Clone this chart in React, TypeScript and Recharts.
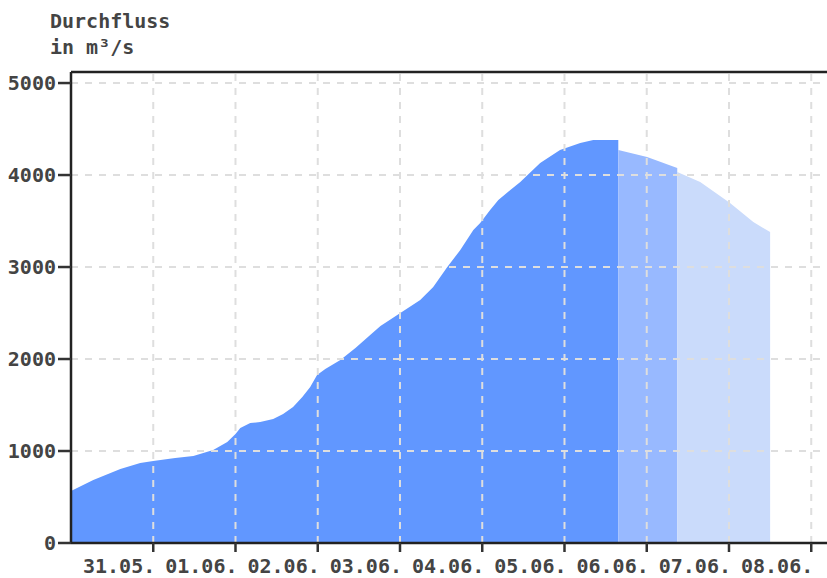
import React from "react";
import { AreaChart, Area, XAxis, YAxis, ReferenceLine } from "recharts";

// hours since 31.05. 00:00
const mainHours = [0, 6.5, 14.4, 20.2, 24, 30.4, 35.7, 41.5, 45.6, 48, 49.4, 52.3, 55.2, 59, 61.9, 64.8, 67.5, 69.8, 71.8, 74.2, 78.6, 83, 87.3, 90.3, 96.1, 101.9, 105.7, 109.8, 113.6, 117.4, 119.4, 122.3, 124.7, 128.2, 131.1, 136.9, 142.7, 148.6, 152.4, 159.7];
const mainValues = [565, 685, 804, 870, 891, 924, 946, 1011, 1098, 1185, 1250, 1304, 1315, 1348, 1402, 1478, 1587, 1696, 1826, 1891, 1989, 2120, 2260, 2360, 2500, 2641, 2783, 3000, 3185, 3402, 3478, 3620, 3728, 3837, 3924, 4130, 4272, 4348, 4380, 4380];

const midHours = [159.7, 168.1, 176.9];
const midValues = [4272, 4196, 4076];

const lightHours = [176.9, 183.6, 192.3, 199.1, 204.0];
const lightValues = [4033, 3924, 3696, 3489, 3380];

const xTicks = [24, 48, 72, 96, 120, 144, 168, 192, 216];
const xTickLabels = ["31.05.", "01.06.", "02.06.", "03.06.", "04.06.", "05.06.", "06.06.", "07.06.", "08.06."];
const yTicks = [0, 1000, 2000, 3000, 4000, 5000];
const yGridValues = [1000, 2000, 3000, 4000, 5000];

const toRows = (h: number[], v: number[]) => h.map((hh, i) => ({ h: hh, v: v[i] }));
const mainData = toRows(mainHours, mainValues);
const midData = toRows(midHours, midValues);
const lightData = toRows(lightHours, lightValues);

const FONT = "'DejaVu Sans Mono', monospace";
const GRID = "#dedede";

const XTick = (props: any) => {
  const { x, y, payload } = props;
  const idx = xTicks.indexOf(payload.value);
  return (
    <text x={x + 2} y={y + 19} textAnchor="end" fontFamily={FONT} fontSize={20} fontWeight="bold" fill="#444">
      {xTickLabels[idx]}
    </text>
  );
};

export default function App() {
  return (
    <div style={{ position: "absolute", left: 0, top: 0, width: 827, height: 578, background: "#fff" }}>
      <div style={{ position: "absolute", left: 50, top: 8, fontFamily: FONT, fontSize: 20, fontWeight: "bold", lineHeight: "26px", color: "#444", whiteSpace: "pre" }}>
        {"Durchfluss\nin m³/s"}
      </div>
      <AreaChart width={827} height={578} margin={{ top: 72, right: 0, bottom: 0, left: 0 }}>
        <XAxis
          type="number"
          dataKey="h"
          domain={[0, 220.6]}
          ticks={xTicks}
          interval={0}
          allowDataOverflow
          height={35}
          tickSize={9}
          tickLine={{ stroke: "#333", strokeWidth: 2.5 }}
          axisLine={{ stroke: "#222", strokeWidth: 2.5 }}
          tick={<XTick />}
        />
        <YAxis
          type="number"
          domain={[0, 5120]}
          ticks={yTicks}
          interval={0}
          allowDataOverflow
          width={71}
          tickSize={13}
          tickMargin={2}
          tickLine={{ stroke: "#333", strokeWidth: 2.5 }}
          axisLine={{ stroke: "#222", strokeWidth: 2.5 }}
          tick={{ fontFamily: FONT, fontSize: 20, fontWeight: "bold", fill: "#444" }}
        />
        <Area data={mainData} dataKey="v" type="linear" stroke="none" fill="#6197ff" fillOpacity={1} isAnimationActive={false} />
        <Area data={midData} dataKey="v" type="linear" stroke="none" fill="#98b9ff" fillOpacity={1} isAnimationActive={false} />
        <Area data={lightData} dataKey="v" type="linear" stroke="none" fill="#cadbfb" fillOpacity={1} isAnimationActive={false} />
        {xTicks.map((t) => (
          <ReferenceLine key={"x" + t} x={t} stroke={GRID} strokeWidth={2} strokeDasharray="7 7" />
        ))}
        {yGridValues.map((t) => (
          <ReferenceLine key={"y" + t} y={t} stroke={GRID} strokeWidth={2} strokeDasharray="7 7" />
        ))}
        <ReferenceLine y={5120} stroke="#222" strokeWidth={2.5} />
      </AreaChart>
    </div>
  );
}
